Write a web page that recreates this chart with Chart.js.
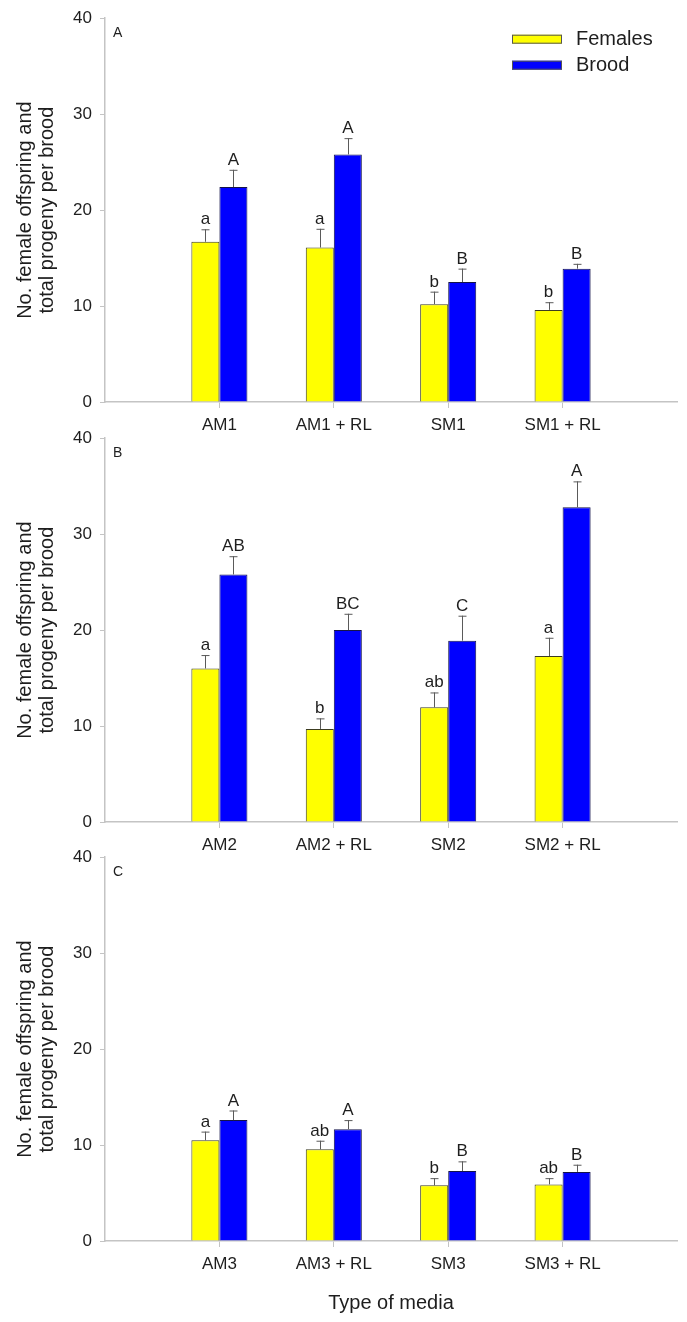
<!DOCTYPE html>
<html>
<head>
<meta charset="utf-8">
<script src="https://cdn.jsdelivr.net/npm/chart.js@4.4.1/dist/chart.umd.min.js"></script>
<style>
    body { margin: 0; background: #fff; width: 687px; height: 1322px; position: relative; overflow: hidden; }
    .panel { position: absolute; left: 0; }
    .panel canvas { display: block; }
</style>
</head>
<body>
<div class="panel" style="top:0px"><canvas id="chartA" width="687" height="440"></canvas></div>
<div class="panel" style="top:420px"><canvas id="chartB" width="687" height="440"></canvas></div>
<div class="panel" style="top:839px"><canvas id="chartC" width="687" height="483"></canvas></div>
<script>
// Panel A
const mediaA = ['AM1', 'AM1 + RL', 'SM1', 'SM1 + RL'];
const femalesA = [16.7, 16.1, 10.2, 9.6];
const femalesErrA = [1.3, 1.95, 1.3, 0.8];
const broodA = [22.4, 25.8, 12.5, 13.9];
const broodErrA = [1.8, 1.7, 1.4, 0.5];
const femalesLettersA = ['a', 'a', 'b', 'b'];
const broodLettersA = ['A', 'A', 'B', 'B'];

// Panel B
const mediaB = ['AM2', 'AM2 + RL', 'SM2', 'SM2 + RL'];
const femalesB = [16.0, 9.7, 11.95, 17.3];
const femalesErrB = [1.4, 1.1, 1.55, 1.9];
const broodB = [25.8, 20.0, 18.9, 32.8];
const broodErrB = [1.9, 1.7, 2.6, 2.7];
const femalesLettersB = ['a', 'b', 'ab', 'a'];
const broodLettersB = ['AB', 'BC', 'C', 'A'];

// Panel C
const mediaC = ['AM3', 'AM3 + RL', 'SM3', 'SM3 + RL'];
const femalesC = [10.5, 9.55, 5.8, 5.9];
const femalesErrC = [0.9, 0.9, 0.75, 0.65];
const broodC = [12.6, 11.65, 7.3, 7.2];
const broodErrC = [1.0, 0.95, 1.0, 0.75];
const femalesLettersC = ['a', 'ab', 'b', 'ab'];
const broodLettersC = ['A', 'A', 'B', 'B'];

const yTicks = [0, 10, 20, 30, 40];
const yTitle = ['No. female offspring and', 'total progeny per brood'];
const xTitle = 'Type of media';

const FONT = "'Liberation Sans', Arial, sans-serif";
const AXIS_GRAY = '#c4c4c4';
const TEXT = '#1e1e1e';

// empty slot at each end so the axis runs half a group past the bars
function padded(arr, fill) {
    return [fill].concat(arr, [fill]);
}

// error bars (upper only), significance letters, panel tag, legend
const barExtras = {
    id: 'barExtras',
    afterDatasetsDraw(chart, args, opts) {
        const ctx = chart.ctx;
        const yScale = chart.scales.y;
        const area = chart.chartArea;
        ctx.save();
        chart.data.datasets.forEach((ds, di) => {
            const meta = chart.getDatasetMeta(di);
            meta.data.forEach((bar, i) => {
                const v = ds.data[i];
                if (v === null || v === undefined) return;
                const top = yScale.getPixelForValue(v + ds.errors[i]);
                const x = Math.round(bar.x) + 0.5;
                ctx.strokeStyle = '#5a5a5a';
                ctx.lineWidth = 1;
                ctx.beginPath();
                ctx.moveTo(x, bar.y);
                ctx.lineTo(x, top);
                ctx.moveTo(x - 4, top + 0.5);
                ctx.lineTo(x + 4, top + 0.5);
                ctx.stroke();
                ctx.fillStyle = TEXT;
                ctx.font = '17px ' + FONT;
                ctx.textAlign = 'center';
                ctx.textBaseline = 'alphabetic';
                ctx.fillText(ds.letters[i], bar.x, top - 5);
            });
        });

        ctx.fillStyle = TEXT;
        ctx.font = '14px ' + FONT;
        ctx.textAlign = 'left';
        ctx.textBaseline = 'middle';
        ctx.fillText(opts.tag, area.left + 8, area.top + 15);

        if (opts.legend) {
            ctx.font = '20px ' + FONT;
            chart.data.datasets.forEach((ds, di) => {
                const cy = area.top + 21 + di * 26;
                ctx.fillStyle = ds.backgroundColor;
                ctx.fillRect(512, cy - 4.5, 50, 9);
                ctx.strokeStyle = '#555';
                ctx.lineWidth = 1;
                ctx.strokeRect(512.5, cy - 4, 49, 8);
                ctx.fillStyle = TEXT;
                ctx.fillText(ds.label, 576, cy);
            });
        }
        ctx.restore();
    }
};

function makePanel(canvasId, tag, media, females, femalesErr, femalesLetters,
                   brood, broodErr, broodLetters, withLegend, withXTitle) {
    const canvas = document.getElementById(canvasId);
    const bottomHeight = canvas.height - 402;
    return new Chart(canvas, {
        type: 'bar',
        data: {
            labels: padded(media, ''),
            datasets: [{
                label: 'Females',
                data: padded(females, null),
                errors: padded(femalesErr, 0),
                letters: padded(femalesLetters, ''),
                backgroundColor: '#ffff00',
                borderColor: '#3c3c20',
                borderWidth: 1
            }, {
                label: 'Brood',
                data: padded(brood, null),
                errors: padded(broodErr, 0),
                letters: padded(broodLetters, ''),
                backgroundColor: '#0000ff',
                borderColor: '#14144a',
                borderWidth: 1
            }]
        },
        options: {
            responsive: false,
            animation: false,
            datasets: {
                bar: {
                    barPercentage: 1,
                    categoryPercentage: 0.49
                }
            },
            layout: {
                padding: { top: 18, right: 10, left: 0, bottom: 0 }
            },
            plugins: {
                legend: { display: false },
                tooltip: { enabled: false },
                barExtras: { tag: tag, legend: withLegend }
            },
            scales: {
                x: {
                    offset: false,
                    grid: {
                        offset: false,
                        drawOnChartArea: false,
                        drawTicks: true,
                        tickLength: 6,
                        tickColor: (c) => (c.index === 0 || c.index === media.length + 1) ? 'rgba(0,0,0,0)' : AXIS_GRAY
                    },
                    border: { color: AXIS_GRAY, width: 1.5 },
                    ticks: {
                        color: TEXT,
                        font: { family: FONT, size: 17 },
                        padding: 7,
                        maxRotation: 0,
                        autoSkip: false
                    },
                    title: {
                        display: withXTitle,
                        text: xTitle,
                        color: TEXT,
                        font: { family: FONT, size: 20 },
                        padding: { top: 0, bottom: 7 }
                    },
                    afterFit: (scale) => { scale.height = bottomHeight; }
                },
                y: {
                    min: 0,
                    max: 40,
                    afterBuildTicks: (scale) => { scale.ticks = yTicks.map(v => ({ value: v })); },
                    grid: {
                        drawOnChartArea: false,
                        drawTicks: true,
                        tickLength: 5,
                        tickColor: AXIS_GRAY
                    },
                    border: { color: AXIS_GRAY, width: 1.5 },
                    ticks: {
                        color: TEXT,
                        font: { family: FONT, size: 17 },
                        padding: 8
                    },
                    title: {
                        display: true,
                        text: yTitle,
                        color: TEXT,
                        font: { family: FONT, size: 20, lineHeight: 1.1 },
                        padding: { top: 14, bottom: 0 }
                    },
                    afterFit: (scale) => { scale.width = 105; }
                }
            }
        },
        plugins: [barExtras]
    });
}

makePanel('chartA', 'A', mediaA, femalesA, femalesErrA, femalesLettersA,
          broodA, broodErrA, broodLettersA, true, false);
makePanel('chartB', 'B', mediaB, femalesB, femalesErrB, femalesLettersB,
          broodB, broodErrB, broodLettersB, false, false);
makePanel('chartC', 'C', mediaC, femalesC, femalesErrC, femalesLettersC,
          broodC, broodErrC, broodLettersC, false, true);
</script>
</body>
</html>
